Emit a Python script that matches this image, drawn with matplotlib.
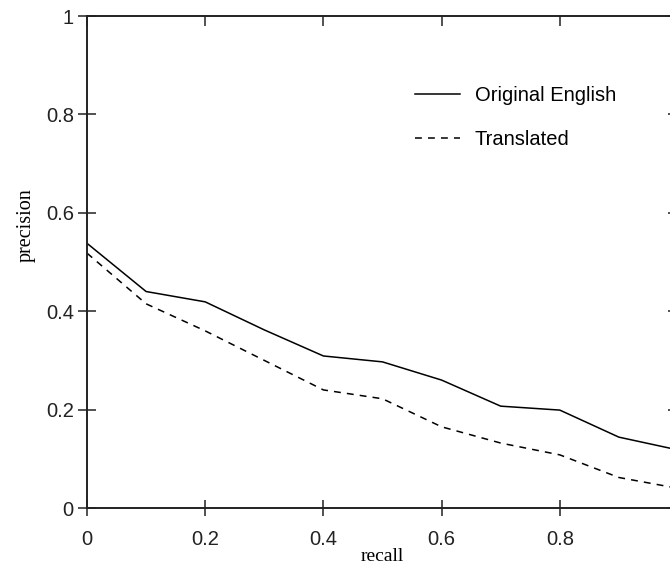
import matplotlib
matplotlib.use("Agg")
import matplotlib.pyplot as plt

recall = [0.0, 0.1, 0.2, 0.3, 0.4, 0.5, 0.6, 0.7, 0.8, 0.9, 1.0]
original_english = [0.538, 0.44, 0.419, 0.362, 0.309, 0.297, 0.26, 0.207, 0.199, 0.144, 0.118]
translated = [0.518, 0.415, 0.36, 0.30, 0.24, 0.222, 0.165, 0.132, 0.108, 0.062, 0.04]
tick_vals = [0, 0.2, 0.4, 0.6, 0.8, 1]
tick_labels = ["0", "0.2", "0.4", "0.6", "0.8", "1"]

W, H = 670, 570
fig = plt.figure(figsize=(W / 100, H / 100), dpi=100)
left, right, top, bottom = 87, 678, 16, 508
ax = fig.add_axes([left / W, 1 - bottom / H, (right - left) / W, (bottom - top) / H])

ax.plot(recall, original_english, color="black", lw=1.1, label="Original English")
ax.plot(recall, translated, color="black", lw=1.1, linestyle=(0, (4.5, 4)), label="Translated")

ax.set_xlim(0, 1)
ax.set_ylim(0, 1)
ax.set_xticks(tick_vals[:-1])
ax.set_xticklabels(tick_labels[:-1])
ax.set_yticks(tick_vals)
ax.set_yticklabels(tick_labels)

for s in ax.spines.values():
    s.set_linewidth(1.4)
    s.set_color("#222222")

ax.tick_params(axis="both", which="both", labelsize=14.5, colors="#222222",
               labelcolor="#222222", width=1.1, labelfontfamily="Liberation Sans")
ax.tick_params(axis="x", direction="inout", length=12, pad=10, top=True)
ax.tick_params(axis="y", direction="inout", length=13, pad=3, right=True)
# top and right ticks pointing inward
for t in ax.xaxis.get_major_ticks():
    t.tick2line.set_marker(3)  # TICKDOWN
    t.tick2line.set_markersize(7)
for t in ax.yaxis.get_major_ticks():
    t.tick2line.set_marker(0)  # TICKLEFT
    t.tick2line.set_markersize(7)

ax.set_xlabel("recall", fontfamily="Liberation Serif", fontsize=14, labelpad=0)
ax.set_ylabel("precision", fontfamily="Liberation Serif", fontsize=14.5)
ax.xaxis.set_label_coords((382 - left) / (right - left), -(548 - bottom) / (bottom - top))
ax.yaxis.set_label_coords(-(87 - 36) / (right - left), 1 - (225 - top) / (bottom - top))

leg = ax.legend(loc="upper left",
                bbox_to_anchor=((415 - left) / (right - left), 1 - (86 - top) / (bottom - top)),
                frameon=False, borderpad=0, borderaxespad=0,
                handlelength=2.25, handletextpad=0.72, labelspacing=1.25,
                prop={"family": "Liberation Sans", "size": 14.5})

fig.savefig("out.png", dpi=100)
